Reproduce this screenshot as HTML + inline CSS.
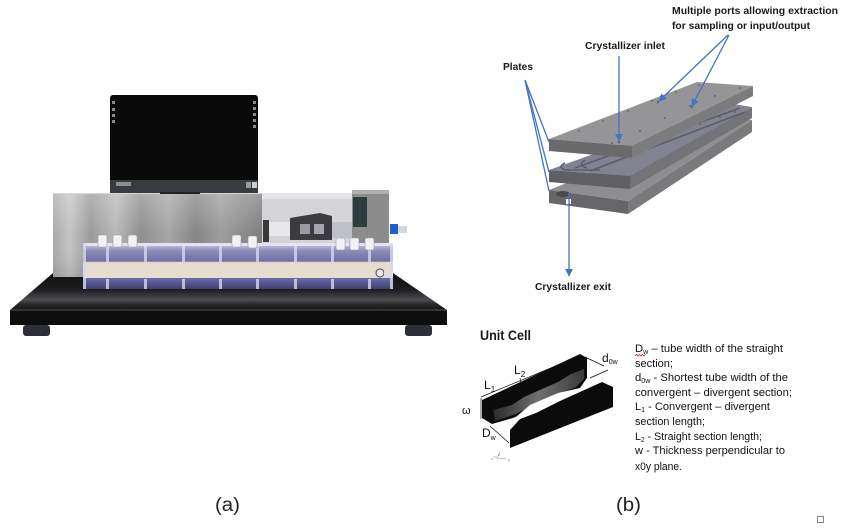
<!DOCTYPE html>
<html>
<head>
<meta charset="utf-8">
<style>
html,body{margin:0;padding:0;background:#fff;}
body{width:850px;height:532px;overflow:hidden;position:relative;}
svg{position:absolute;left:0;top:0;}
text{font-family:"Liberation Sans",sans-serif;}
</style>
</head>
<body>
<svg width="850" height="532" viewBox="0 0 850 532" xmlns="http://www.w3.org/2000/svg">
<defs>
  <linearGradient id="steel" x1="0" y1="0" x2="1" y2="0">
    <stop offset="0" stop-color="#a9a9a9"/>
    <stop offset="0.08" stop-color="#c4c4c4"/>
    <stop offset="0.18" stop-color="#9a9a9a"/>
    <stop offset="0.3" stop-color="#b8b8b8"/>
    <stop offset="0.42" stop-color="#8e8e8e"/>
    <stop offset="0.55" stop-color="#a6a6a6"/>
    <stop offset="0.68" stop-color="#858585"/>
    <stop offset="0.8" stop-color="#9c9c9c"/>
    <stop offset="1" stop-color="#7c7c7c"/>
  </linearGradient>
  <linearGradient id="steelV" x1="0" y1="0" x2="0" y2="1">
    <stop offset="0" stop-color="#ffffff" stop-opacity="0.25"/>
    <stop offset="0.5" stop-color="#ffffff" stop-opacity="0"/>
    <stop offset="1" stop-color="#000000" stop-opacity="0.1"/>
  </linearGradient>
  <linearGradient id="baseTop" x1="0" y1="0" x2="0" y2="1">
    <stop offset="0" stop-color="#111111"/>
    <stop offset="0.45" stop-color="#1c1c20"/>
    <stop offset="0.72" stop-color="#4e4e52"/>
    <stop offset="0.86" stop-color="#262626"/>
    <stop offset="1" stop-color="#161616"/>
  </linearGradient>
  <linearGradient id="upperBlk" x1="0" y1="0" x2="0" y2="1">
    <stop offset="0" stop-color="#d4d3e4"/>
    <stop offset="0.4" stop-color="#8e8cb8"/>
    <stop offset="1" stop-color="#6e6ca2"/>
  </linearGradient>
  <linearGradient id="lowerBlk" x1="0" y1="0" x2="0" y2="1">
    <stop offset="0" stop-color="#6a6ca6"/>
    <stop offset="1" stop-color="#3e4070"/>
  </linearGradient>
  <linearGradient id="innerFace" x1="0" y1="0" x2="1" y2="0">
    <stop offset="0" stop-color="#2a2a2a"/>
    <stop offset="0.5" stop-color="#707070"/>
    <stop offset="1" stop-color="#3a3a3a"/>
  </linearGradient>
  <marker id="ah" viewBox="0 0 10 10" refX="9" refY="5" markerWidth="6" markerHeight="6" orient="auto">
    <path d="M0,0 L10,5 L0,10 z" fill="#4472C4"/>
  </marker>
</defs>

<!-- ================= (a) DEVICE PHOTO ================= -->
<polygon points="53,273 393,273 447,310 10,310" fill="url(#baseTop)"/>
<rect x="10" y="310" width="437" height="15" fill="#0e0e0f"/>
<line x1="10" y1="310" x2="447" y2="310" stroke="#6a6a6a" stroke-width="0.8"/>
<rect x="23" y="325" width="27" height="11" rx="3" fill="#2c3036"/>
<rect x="405" y="325" width="27" height="11" rx="3" fill="#2c3036"/>

<rect x="53" y="193" width="210" height="84" fill="url(#steel)"/>
<rect x="53" y="193" width="210" height="84" fill="url(#steelV)"/>
<line x1="53" y1="193.5" x2="263" y2="193.5" stroke="#d8d8d8" stroke-width="1"/>
<rect x="262" y="193" width="92" height="52" fill="#d3d3d8"/>
<rect x="262" y="193" width="92" height="6" fill="#e6e6ea"/>
<rect x="266" y="222" width="30" height="14" fill="#e8e8ec"/>
<rect x="263" y="220" width="6" height="22" fill="#3a3a3a"/>
<polygon points="290,218 320,213 332,216 332,240 290,240" fill="#3c3c40"/>
<rect x="300" y="224" width="10" height="10" fill="#9a9aa0"/>
<rect x="314" y="224" width="10" height="10" fill="#a4a4aa"/>
<rect x="332" y="222" width="22" height="16" fill="#c0c0c8"/>
<rect x="352" y="190" width="37" height="56" fill="#8c8c8c"/>
<rect x="352" y="190" width="37" height="4" fill="#b0b0b0"/>
<rect x="353" y="197" width="14" height="30" fill="#2e3c3e"/>
<rect x="390" y="224" width="8" height="10" fill="#1e5fc8"/>
<rect x="398" y="226" width="9" height="7" fill="#cfd6e4"/>

<rect x="110" y="95" width="148" height="98" rx="3" fill="#0a0a0b"/>
<rect x="110" y="180" width="148" height="13" fill="#383b40"/>
<rect x="116" y="182" width="15" height="4" fill="#8a8d92"/>
<rect x="246" y="182" width="5" height="6" fill="#9a9a9a"/>
<rect x="252" y="182" width="5" height="6" fill="#cccccc"/>
<g fill="#888">
<rect x="112" y="101" width="3" height="3"/><rect x="112" y="108" width="3" height="3"/>
<rect x="112" y="114" width="3" height="3"/><rect x="112" y="120" width="3" height="3"/>
<rect x="253" y="101" width="3" height="3"/><rect x="253" y="107" width="3" height="3"/>
<rect x="253" y="113" width="3" height="3"/><rect x="253" y="119" width="3" height="3"/>
<rect x="253" y="125" width="3" height="3"/>
</g>
<rect x="160" y="192" width="40" height="2" fill="#222"/>

<rect x="83" y="243" width="310" height="19" fill="url(#upperBlk)"/>
<rect x="83" y="243" width="310" height="3" fill="#e4e3ee"/>
<rect x="83" y="262" width="310" height="16" fill="#e6ddd0"/>
<line x1="83" y1="262" x2="393" y2="262" stroke="#cfc4b4" stroke-width="0.8"/>
<rect x="83" y="278" width="310" height="11" fill="url(#lowerBlk)"/>
<g fill="#d8d8ee" opacity="0.8">
  <rect x="83" y="243" width="3" height="46"/>
  <rect x="106" y="246" width="3" height="16"/><rect x="106" y="279" width="3" height="10"/>
  <rect x="144" y="246" width="3" height="16"/><rect x="144" y="279" width="3" height="10"/>
  <rect x="182" y="246" width="3" height="16"/><rect x="182" y="279" width="3" height="10"/>
  <rect x="219" y="246" width="3" height="16"/><rect x="219" y="279" width="3" height="10"/>
  <rect x="256" y="246" width="3" height="16"/><rect x="256" y="279" width="3" height="10"/>
  <rect x="294" y="246" width="3" height="16"/><rect x="294" y="279" width="3" height="10"/>
  <rect x="331" y="246" width="3" height="16"/><rect x="331" y="279" width="3" height="10"/>
  <rect x="368" y="246" width="3" height="16"/><rect x="368" y="279" width="3" height="10"/>
  <rect x="390" y="243" width="3" height="46"/>
</g>
<g fill="#f2f2f4" stroke="#9a9aa4" stroke-width="0.6">
  <rect x="98" y="235" width="9" height="12" rx="2"/>
  <rect x="113" y="235" width="9" height="12" rx="2"/>
  <rect x="128" y="235" width="9" height="12" rx="2"/>
  <rect x="232" y="235" width="9" height="12" rx="2"/>
  <rect x="248" y="236" width="9" height="12" rx="2"/>
  <rect x="336" y="238" width="9" height="12" rx="2"/>
  <rect x="350" y="238" width="9" height="12" rx="2"/>
  <rect x="365" y="238" width="9" height="12" rx="2"/>
</g>
<circle cx="380" cy="273" r="4" fill="#e8e8e8" stroke="#444" stroke-width="1"/>
<rect x="384" y="270" width="9" height="6" fill="#ddd"/>

<!-- ================= (b) DIAGRAM ================= -->
<polygon points="549,190 733,118 752,120 628,201" fill="#8e8e90"/>
<polygon points="549,190 628,201 628,214 549,203" fill="#666668"/>
<polygon points="628,201 752,120 752,132 628,214" fill="#7a7a7c"/>
<ellipse cx="563" cy="194" rx="7" ry="3" fill="#4a4a4c"/>
<rect x="566" y="199" width="5" height="5" fill="#fff"/>
<polygon points="549,170 733,104 752,107 630,176" fill="#818390"/>
<polygon points="549,170 630,176 630,189 549,182" fill="#606064"/>
<polygon points="630,176 752,107 752,118 630,189" fill="#737378"/>
<g stroke="#5c5e6a" stroke-width="1.6" fill="none">
  <path d="M575,168 L740,108"/>
  <path d="M590,171 L745,112"/>
  <path d="M565,163 q-8,4 0,7 L600,170"/>
  <path d="M585,160 q-8,5 2,8"/>
</g>
<g fill="#55575e">
  <circle cx="640" cy="146" r="0.9"/><circle cx="660" cy="139" r="0.9"/><circle cx="680" cy="131" r="0.9"/>
  <circle cx="700" cy="124" r="0.9"/><circle cx="720" cy="117" r="0.9"/><circle cx="735" cy="112" r="0.9"/>
</g>
<polygon points="549,139 697,82 753,86 632,146" fill="#959597"/>
<polygon points="549,139 632,146 632,158 549,151" fill="#6a6a6c"/>
<polygon points="632,146 753,86 753,96 632,158" fill="#7c7c7e"/>
<g fill="#6a6a6c">
  <circle cx="579" cy="131" r="1"/><circle cx="603" cy="121" r="1"/><circle cx="628" cy="111" r="1"/>
  <circle cx="652" cy="101" r="1"/><circle cx="676" cy="92" r="1"/><circle cx="699" cy="85" r="1"/>
  <circle cx="612" cy="143" r="1"/><circle cx="640" cy="131" r="1"/><circle cx="665" cy="118" r="1"/>
  <circle cx="690" cy="106" r="1"/><circle cx="715" cy="96" r="1"/><circle cx="740" cy="88" r="1"/>
  <circle cx="619" cy="142" r="1.3"/><circle cx="658" cy="102" r="1.3"/><circle cx="692" cy="107" r="1.3"/>
</g>

<g stroke="#4472C4" stroke-width="1.3" fill="none">
  <line x1="619" y1="56" x2="619" y2="141" marker-end="url(#ah)"/>
  <line x1="728" y1="35" x2="659" y2="101" marker-end="url(#ah)"/>
  <line x1="729" y1="35" x2="692" y2="106" marker-end="url(#ah)"/>
  <line x1="569" y1="193" x2="569" y2="276" marker-end="url(#ah)"/>
  <line x1="525" y1="80" x2="549" y2="142"/>
  <line x1="525" y1="80" x2="549" y2="172"/>
  <line x1="525" y1="80" x2="549" y2="191"/>
</g>

<g font-weight="bold" font-size="10.5" fill="#1a1a1a">
  <text x="672" y="14" textLength="166" lengthAdjust="spacingAndGlyphs">Multiple ports allowing extraction</text>
  <text x="672" y="29" textLength="138" lengthAdjust="spacingAndGlyphs">for sampling or input/output</text>
  <text x="585" y="49" textLength="80" lengthAdjust="spacingAndGlyphs">Crystallizer inlet</text>
  <text x="503" y="70" textLength="30" lengthAdjust="spacingAndGlyphs">Plates</text>
  <text x="535" y="290" textLength="76" lengthAdjust="spacingAndGlyphs">Crystallizer exit</text>
  <text x="480" y="340" font-size="13.5" textLength="51" lengthAdjust="spacingAndGlyphs">Unit Cell</text>
</g>

<!-- unit cell -->
<polygon points="482,400 580,354 587,358 587,378 580,388 513,418 492,424 482,418" fill="#0b0b0b"/>
<polygon points="493,410 512,405 524,397 558,382 571,374 584,369 584,379 576,387 545,399 516,414 495,421" fill="url(#innerFace)"/>
<polygon points="516,417 530,405 558,393 580,388 566,398 535,411" fill="#ffffff"/>
<polygon points="510,430 520,419 536,413 560,401 602,382 613,387 613,407 510,448" fill="#0b0b0b"/>
<g stroke="#111" stroke-width="0.7" fill="none">
  <line x1="481" y1="397" x2="558" y2="365"/>
  <line x1="520" y1="378" x2="521" y2="383"/>
  <line x1="481" y1="398" x2="481" y2="419"/>
  <line x1="490" y1="426" x2="509" y2="443"/>
  <line x1="585" y1="357" x2="604" y2="366"/>
  <line x1="590" y1="378" x2="608" y2="370"/>
</g>
<g font-size="12" fill="#111">
  <text x="484" y="389">L<tspan font-size="8" dy="3">1</tspan></text>
  <text x="514" y="374">L<tspan font-size="8" dy="3">2</tspan></text>
  <text x="602" y="362">d<tspan font-size="7" dy="2">0w</tspan></text>
  <text x="482" y="437">D<tspan font-size="7" dy="3">w</tspan></text>
  <text x="462" y="414" font-size="11" font-family="'Liberation Serif',serif">ω</text>
</g>
<g font-size="4" fill="#777">
  <text x="491" y="460">x</text><text x="498" y="456">z</text><text x="508" y="461">y</text>
</g>
<g stroke="#888" stroke-width="0.5"><line x1="497" y1="458" x2="500" y2="452"/><line x1="497" y1="458" x2="506" y2="459"/><line x1="497" y1="458" x2="493" y2="456"/></g>

<g font-size="11" fill="#111">
  <text x="635" y="352" textLength="148" lengthAdjust="spacingAndGlyphs">D<tspan font-size="7" dy="2">w</tspan><tspan dy="-2"> – tube width of the straight</tspan></text>
  <text x="635" y="367" textLength="38" lengthAdjust="spacingAndGlyphs">section;</text>
  <text x="635" y="381" textLength="153" lengthAdjust="spacingAndGlyphs">d<tspan font-size="7" dy="2">0w</tspan><tspan dy="-2"> - Shortest tube width of the</tspan></text>
  <text x="635" y="396" textLength="157" lengthAdjust="spacingAndGlyphs">convergent – divergent section;</text>
  <text x="635" y="410" textLength="135" lengthAdjust="spacingAndGlyphs">L<tspan font-size="7" dy="2">1</tspan><tspan dy="-2"> - Convergent – divergent</tspan></text>
  <text x="635" y="425" textLength="70" lengthAdjust="spacingAndGlyphs">section length;</text>
  <text x="635" y="440" textLength="127" lengthAdjust="spacingAndGlyphs">L<tspan font-size="7" dy="2">2</tspan><tspan dy="-2"> - Straight section length;</tspan></text>
  <text x="635" y="454" textLength="150" lengthAdjust="spacingAndGlyphs">w - Thickness perpendicular to</text>
  <text x="635" y="470" textLength="47" lengthAdjust="spacingAndGlyphs">x0y plane.</text>
</g>
<path d="M635,356 l1.5,-1.5 l1.5,1.5 l1.5,-1.5 l1.5,1.5 l1.5,-1.5 l1.5,1.5 l1.5,-1.5" stroke="#d02020" stroke-width="0.8" fill="none"/>

<text x="215" y="511" font-size="19" fill="#222" textLength="25" lengthAdjust="spacingAndGlyphs">(a)</text>
<text x="616" y="511" font-size="19" fill="#222" textLength="25" lengthAdjust="spacingAndGlyphs">(b)</text>
<rect x="817.5" y="516.5" width="6" height="6" fill="none" stroke="#888" stroke-width="1"/>
</svg>
</body>
</html>
